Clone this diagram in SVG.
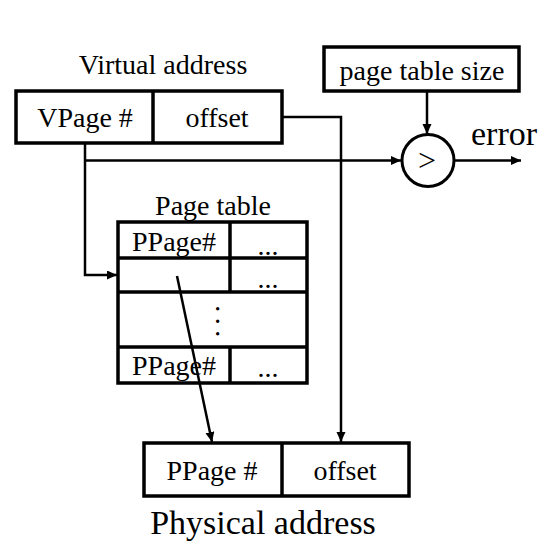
<svg xmlns="http://www.w3.org/2000/svg" width="551" height="560" viewBox="0 0 551 560">
<style>
  .box { fill: #ffffff; stroke: #000000; stroke-width: 3.5; }
  .div { stroke: #000000; stroke-width: 3.5; fill: none; }
  .t { font-family: "Liberation Serif", "Times New Roman", serif; fill: #000000; text-anchor: middle; }
  .conn { stroke: #000000; fill: none; stroke-width: 2.5; }
</style>
<defs>
  <marker id="arr" markerUnits="userSpaceOnUse" markerWidth="12" markerHeight="10" refX="10" refY="4.5" orient="auto">
    <path d="M0,0 L10,4.5 L0,9 Z" fill="#000000"/>
  </marker>
</defs>
<rect width="551" height="560" fill="#ffffff"/>

<g id="virtual-address">
  <text class="t" x="163" y="74" font-size="28">Virtual address</text>
  <rect class="box" x="16" y="91" width="266" height="52"/>
  <line class="div" x1="153" y1="91" x2="153" y2="143"/>
  <text class="t" x="85" y="127" font-size="28">VPage #</text>
  <text class="t" x="217" y="127" font-size="28">offset</text>
</g>

<g id="page-table-size">
  <rect class="box" x="324" y="47" width="195" height="44"/>
  <text class="t" x="422" y="80" font-size="28">page table size</text>
</g>

<g id="comparator">
  <circle cx="428" cy="160.5" r="26" fill="#ffffff" stroke="#000000" stroke-width="3"/>
  <text class="t" x="427" y="171" font-size="32">&gt;</text>
</g>

<g id="error-label">
  <text class="t" x="504" y="145" font-size="34">error</text>
</g>

<g id="page-table">
  <text class="t" x="213" y="215" font-size="28">Page table</text>
  <rect class="box" x="118" y="222" width="189" height="161"/>
  <line class="div" x1="118" y1="258" x2="307" y2="258"/>
  <line class="div" x1="118" y1="292" x2="307" y2="292"/>
  <line class="div" x1="118" y1="347" x2="307" y2="347"/>
  <line class="div" x1="230" y1="222" x2="230" y2="292"/>
  <line class="div" x1="230" y1="347" x2="230" y2="383"/>
  <text class="t" x="174" y="251" font-size="28">PPage#</text>
  <text class="t" x="268" y="255" font-size="28">...</text>
  <text class="t" x="268" y="288" font-size="28">...</text>
  <text class="t" x="0" y="0" font-size="28" letter-spacing="5.5" transform="translate(215.5,324) rotate(90)">...</text>
  <text class="t" x="174" y="375" font-size="28">PPage#</text>
  <text class="t" x="268" y="377" font-size="28">...</text>
</g>

<g id="physical-address">
  <rect class="box" x="144" y="443" width="265" height="53"/>
  <line class="div" x1="282" y1="443" x2="282" y2="496"/>
  <text class="t" x="212" y="480" font-size="28">PPage #</text>
  <text class="t" x="345" y="480" font-size="28">offset</text>
  <text class="t" x="263" y="534" font-size="34">Physical address</text>
</g>

<g id="connectors">
  <path class="conn" d="M282,117 H341 V442" marker-end="url(#arr)"/>
  <path class="conn" d="M85,143 V275 H117" marker-end="url(#arr)"/>
  <path class="conn" d="M85,160.5 H401" stroke-width="4" marker-end="url(#arr)"/>
  <path class="conn" d="M427,91 V134" stroke-width="3" marker-end="url(#arr)"/>
  <path class="conn" d="M454,160.5 H521" stroke-width="4" marker-end="url(#arr)"/>
  <path class="conn" d="M177,276 L212,442" marker-end="url(#arr)"/>
</g>
</svg>
